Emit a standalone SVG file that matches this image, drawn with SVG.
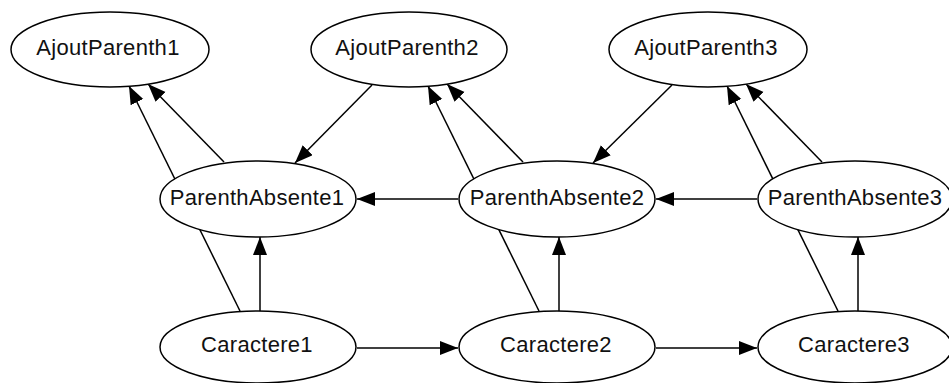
<svg xmlns="http://www.w3.org/2000/svg" width="949" height="383" viewBox="0 0 949 383">
  <defs>
    <marker id="arrow" markerUnits="userSpaceOnUse" markerWidth="19" markerHeight="15" refX="18" refY="7" orient="auto">
      <path d="M0,0 L18,7 L0,14 z" fill="#000"/>
    </marker>
    <style>
      .edge { stroke: #000; stroke-width: 1.5; fill: none; marker-end: url(#arrow); }
      .node ellipse { fill: #fff; stroke: #000; stroke-width: 1.5; }
      .node text { font-family: "Liberation Sans", Arial, sans-serif; font-size: 22px; letter-spacing: 0.3px; fill: #111; text-anchor: middle; }
    </style>
  </defs>
  <rect width="949" height="383" fill="#fff"/>

  <g id="edges">
    <!-- Caractere -> AjoutParenth (runs behind ParenthAbsente) -->
    <line class="edge" x1="240" y1="311" x2="129" y2="86"/>
    <line class="edge" x1="539" y1="311" x2="428" y2="86"/>
    <line class="edge" x1="838" y1="311" x2="727" y2="86"/>
    <!-- ParenthAbsente -> AjoutParenth -->
    <line class="edge" x1="224" y1="162" x2="148" y2="84"/>
    <line class="edge" x1="523" y1="162" x2="447" y2="84"/>
    <line class="edge" x1="822" y1="162" x2="746" y2="84"/>
    <!-- Caractere -> ParenthAbsente -->
    <line class="edge" x1="260" y1="311" x2="260" y2="237"/>
    <line class="edge" x1="559" y1="311" x2="559" y2="237"/>
    <line class="edge" x1="858" y1="311" x2="858" y2="237"/>
    <!-- Caractere chain -->
    <line class="edge" x1="357" y1="348" x2="458" y2="348"/>
    <line class="edge" x1="656" y1="348" x2="757" y2="348"/>
    <!-- ParenthAbsente chain (right to left) -->
    <line class="edge" x1="458" y1="199" x2="357" y2="199"/>
    <line class="edge" x1="757" y1="199" x2="656" y2="199"/>
    <!-- AjoutParenth(i+1) -> ParenthAbsente(i) -->
    <line class="edge" x1="372" y1="85" x2="295" y2="163"/>
    <line class="edge" x1="672" y1="85" x2="593" y2="163"/>
  </g>

  <g id="AjoutParenth1" class="node">
    <ellipse cx="110" cy="49.5" rx="99" ry="37.5"/>
    <text x="108" y="55">AjoutParenth1</text>
  </g>
  <g id="AjoutParenth2" class="node">
    <ellipse cx="409" cy="49.5" rx="98" ry="37.5"/>
    <text x="407" y="55">AjoutParenth2</text>
  </g>
  <g id="AjoutParenth3" class="node">
    <ellipse cx="708" cy="49.5" rx="99" ry="37.5"/>
    <text x="706" y="55">AjoutParenth3</text>
  </g>

  <g id="ParenthAbsente1" class="node">
    <ellipse cx="258" cy="199" rx="98" ry="38"/>
    <text x="257" y="205">ParenthAbsente1</text>
  </g>
  <g id="ParenthAbsente2" class="node">
    <ellipse cx="557" cy="199" rx="98" ry="38"/>
    <text x="557" y="205">ParenthAbsente2</text>
  </g>
  <g id="ParenthAbsente3" class="node">
    <ellipse cx="855" cy="199" rx="97" ry="38"/>
    <text x="855" y="205">ParenthAbsente3</text>
  </g>

  <g id="Caractere1" class="node">
    <ellipse cx="258" cy="347" rx="98" ry="36"/>
    <text x="257" y="352">Caractere1</text>
  </g>
  <g id="Caractere2" class="node">
    <ellipse cx="557" cy="347" rx="98" ry="36"/>
    <text x="556" y="352">Caractere2</text>
  </g>
  <g id="Caractere3" class="node">
    <ellipse cx="855" cy="347" rx="97" ry="36"/>
    <text x="854" y="352">Caractere3</text>
  </g>
</svg>
